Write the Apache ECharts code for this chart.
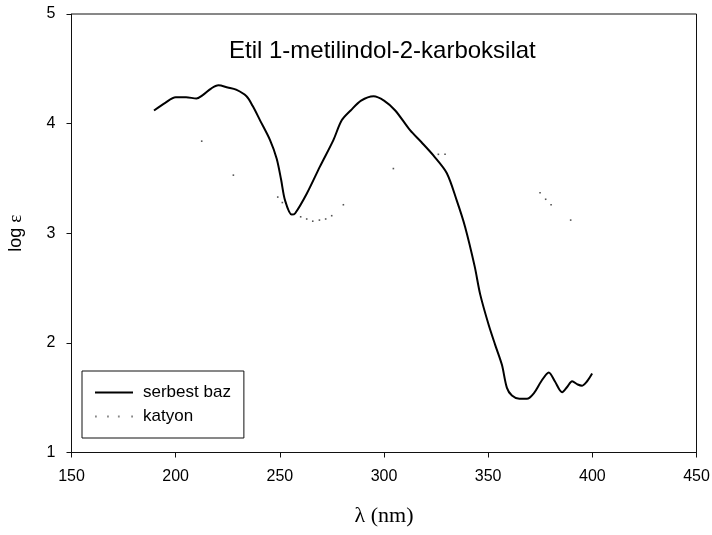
<!DOCTYPE html>
<html>
<head>
<meta charset="utf-8">
<script src="https://cdn.jsdelivr.net/npm/echarts@6/dist/echarts.min.js"></script>
<style>html,body{margin:0;padding:0;background:#fff}#c{width:712px;height:535px}</style>
</head>
<body>
<div id="c"></div>
<script>
// serbest baz (free base) spectrum
var baseX = [189.6,195,200,205,210,213,217,220.5,225,229,234,237,240.5,245.3,248.5,250.6,252.5,255.7,257.3,262.9,269.3,275.7,279.7,284,289,295,300,305.4,312.5,318,323.7,330.1,334.9,338.9,343.5,346.2,350.3,353.4,356.6,359,361.4,365,368.6,371.9,375.5,379.1,382,385.5,388,390.3,393,395.1,397.5,399.9];
var baseY = [4.12,4.19,4.24,4.24,4.23,4.26,4.32,4.35,4.33,4.31,4.25,4.16,4.03,3.85,3.68,3.49,3.30,3.17,3.18,3.36,3.61,3.85,4.03,4.12,4.21,4.25,4.21,4.12,3.94,3.83,3.71,3.55,3.30,3.06,2.70,2.44,2.16,1.98,1.80,1.59,1.52,1.49,1.49,1.54,1.65,1.73,1.65,1.55,1.60,1.65,1.62,1.61,1.65,1.72];
// katyon (cation) spectrum - visible dots of the dotted line
var katyonX = [212.5,227.7,249,251.2,260,262.9,265.8,269,272,274.9,280.5,304.5,326.1,329.3,374.9,377.6,380.2,389.6];
var katyonY = [3.84,3.53,3.33,3.28,3.15,3.13,3.11,3.12,3.13,3.16,3.26,3.59,3.72,3.72,3.37,3.31,3.26,3.12];
var seriesNames = ['serbest baz','katyon'];
var titleText = 'Etil 1-metilindol-2-karboksilat';
var xName = 'λ (nm)';

function zip(a,b){var r=[];for(var i=0;i<a.length;i++){r.push([a[i],b[i]]);}return r;}

var chart = echarts.init(document.getElementById('c'), null, {renderer:'canvas'});
var SANS = 'Liberation Sans, Arial, sans-serif';
var SERIF = 'Liberation Serif, Times New Roman, serif';
chart.setOption({
  animation:false,
  backgroundColor:'#fff',
  title:{
    text:titleText, left:229, top:39, padding:0,
    textStyle:{fontFamily:SANS,fontSize:24,fontWeight:'normal',color:'#000'}
  },
  grid:{left:71.5,right:15.5,top:14,bottom:82.5,show:true,borderColor:'#111',borderWidth:1,backgroundColor:'transparent',containLabel:false,outerBoundsMode:'none'},
  legend:{
    orient:'vertical', left:82, top:371,
    padding:[13,13,13,13], itemGap:7,
    backgroundColor:'#fff', borderColor:'#111', borderWidth:1, borderRadius:0,
    itemWidth:38, itemHeight:2,
    textStyle:{fontFamily:SANS,fontSize:17,color:'#000',lineHeight:17,padding:[0,0,0,5]},
    data:[
      {name:seriesNames[0], icon:'path://M0,0h38v2h-38z', itemStyle:{color:'#000',borderWidth:0}},
      {name:seriesNames[1], icon:'path://M0,0h1.5v1.5h-1.5z M10,0h1.5v1.5h-1.5z M19,0h1.5v1.5h-1.5z M30,0h1.5v1.5h-1.5z', itemStyle:{color:'#888',borderWidth:0}}
    ]
  },
  xAxis:{
    type:'value', min:150, max:450, interval:50,
    name:xName, nameLocation:'middle', nameGap:53,
    nameTextStyle:{fontFamily:SERIF,fontSize:22,color:'#000'},
    axisLine:{show:true,onZero:false,lineStyle:{color:'#111',width:1}},
    axisTick:{show:true,inside:false,length:5,lineStyle:{color:'#111'}},
    axisLabel:{margin:16,fontFamily:SANS,fontSize:16,color:'#000'},
    splitLine:{show:false}
  },
  yAxis:{
    type:'value', min:1, max:5, interval:1,
    name:'{a|log} {b|ε}', nameLocation:'middle', nameGap:46, nameRotate:90,
    nameTextStyle:{fontFamily:SANS,fontSize:18,color:'#000',rich:{a:{fontFamily:SANS,fontSize:18,color:'#000'},b:{fontFamily:SERIF,fontSize:19,color:'#000'}}},
    axisLine:{show:true,onZero:false,lineStyle:{color:'#111',width:1}},
    axisTick:{show:true,inside:false,length:5,lineStyle:{color:'#111'}},
    axisLabel:{margin:16,fontFamily:SANS,fontSize:16,color:'#000'},
    splitLine:{show:false}
  },
  series:[
    {
      name:seriesNames[0], type:'line', data:zip(baseX,baseY),
      smooth:0.3, showSymbol:false, symbol:'none',
      lineStyle:{color:'#000',width:2}, itemStyle:{color:'#000'}
    },
    {
      name:seriesNames[1], type:'line', data:zip(katyonX,katyonY),
      showSymbol:true, showAllSymbol:true, symbol:'rect', symbolSize:1.6,
      lineStyle:{width:0,opacity:0}, itemStyle:{color:'#555',borderWidth:0}
    }
  ]
});
</script>
</body>
</html>
